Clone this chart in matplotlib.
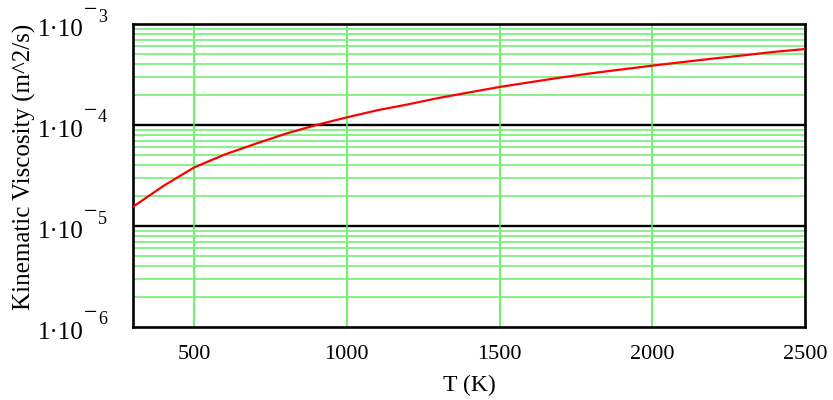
import numpy as np
import matplotlib
matplotlib.use("Agg")
from matplotlib import pyplot as plt
import matplotlib.transforms as mtransforms
from matplotlib.ticker import LogLocator, NullFormatter

FONT = 'Liberation Serif'

# data
temps = [300, 400, 500, 600, 700, 800, 900, 1000, 1100, 1200, 1300, 1400,
         1500, 1600, 1700, 1800, 1900, 2000, 2100, 2200, 2300, 2400, 2500]
visc = [1.55e-5, 2.5e-5, 3.8e-5, 5.1e-5, 6.5e-5, 8.2e-5, 1.0e-4, 1.19e-4,
        1.4e-4, 1.6e-4, 1.85e-4, 2.1e-4, 2.38e-4, 2.65e-4, 2.95e-4, 3.25e-4,
        3.55e-4, 3.87e-4, 4.2e-4, 4.55e-4, 4.9e-4, 5.3e-4, 5.65e-4]
xticks = [500, 1000, 1500, 2000, 2500]
yticks = [1e-6, 1e-5, 1e-4, 1e-3]
ytick_exps = ['6', '5', '4', '3']

fig = plt.figure(figsize=(8.33, 4.0), dpi=100)
ax = fig.add_axes([0.1597, 0.1825, 0.8067, 0.7575])

ax.set_yscale('log')
ax.set_xlim(300, 2500)
ax.set_ylim(1e-6, 1e-3)

# grid: green minor lines, black decade lines
ax.yaxis.set_minor_locator(LogLocator(base=10, subs=np.arange(2, 10)))
ax.yaxis.set_minor_formatter(NullFormatter())
ax.grid(which='minor', axis='y', color='#80f080', linewidth=1.3)
for y in yticks[1:-1]:
    ax.axhline(y, color='black', linewidth=1.7, zorder=1)
for x in xticks[:-1]:
    ax.axvline(x, color='#40f040', linewidth=1.1, zorder=1)

ax.plot(temps, visc, color='red', linewidth=1.6, zorder=3)

ax.set_xticks(xticks)
ax.set_xticklabels([str(t) for t in xticks], family=FONT, fontsize=16)
ax.set_yticks(yticks)
ax.set_yticklabels([])
ax.tick_params(which='both', length=0)
ax.tick_params(axis='x', pad=13)

# y tick labels in the "1·10^-n" style: base, raised minus, exponent digit
trans = ax.get_yaxis_transform()
def shifted(dx, dy):
    return trans + mtransforms.ScaledTranslation(dx / 100, dy / 100, fig.dpi_scale_trans)

for y, e in zip(yticks, ytick_exps):
    ax.text(0, y, '1\u00b710', transform=shifted(-49, -12), fontsize=18,
            family=FONT, ha='right', va='baseline', clip_on=False)
    ax.text(0, y, '\u2212', transform=shifted(-49, 8), fontsize=17,
            family=FONT, ha='left', va='baseline', clip_on=False)
    ax.text(0, y, e, transform=shifted(-35, 2.5), fontsize=13,
            family=FONT, ha='left', va='baseline', clip_on=False)

for s in ax.spines.values():
    s.set_linewidth(1.9)
    s.set_color('black')

ax.set_xlabel('T (K)', fontsize=17, family=FONT, labelpad=8)
ax.set_ylabel('Kinematic Viscosity (m^2/s)', fontsize=18, family=FONT)
ax.yaxis.set_label_coords(-0.144, 0.53)

fig.savefig('out.png', dpi=100)
